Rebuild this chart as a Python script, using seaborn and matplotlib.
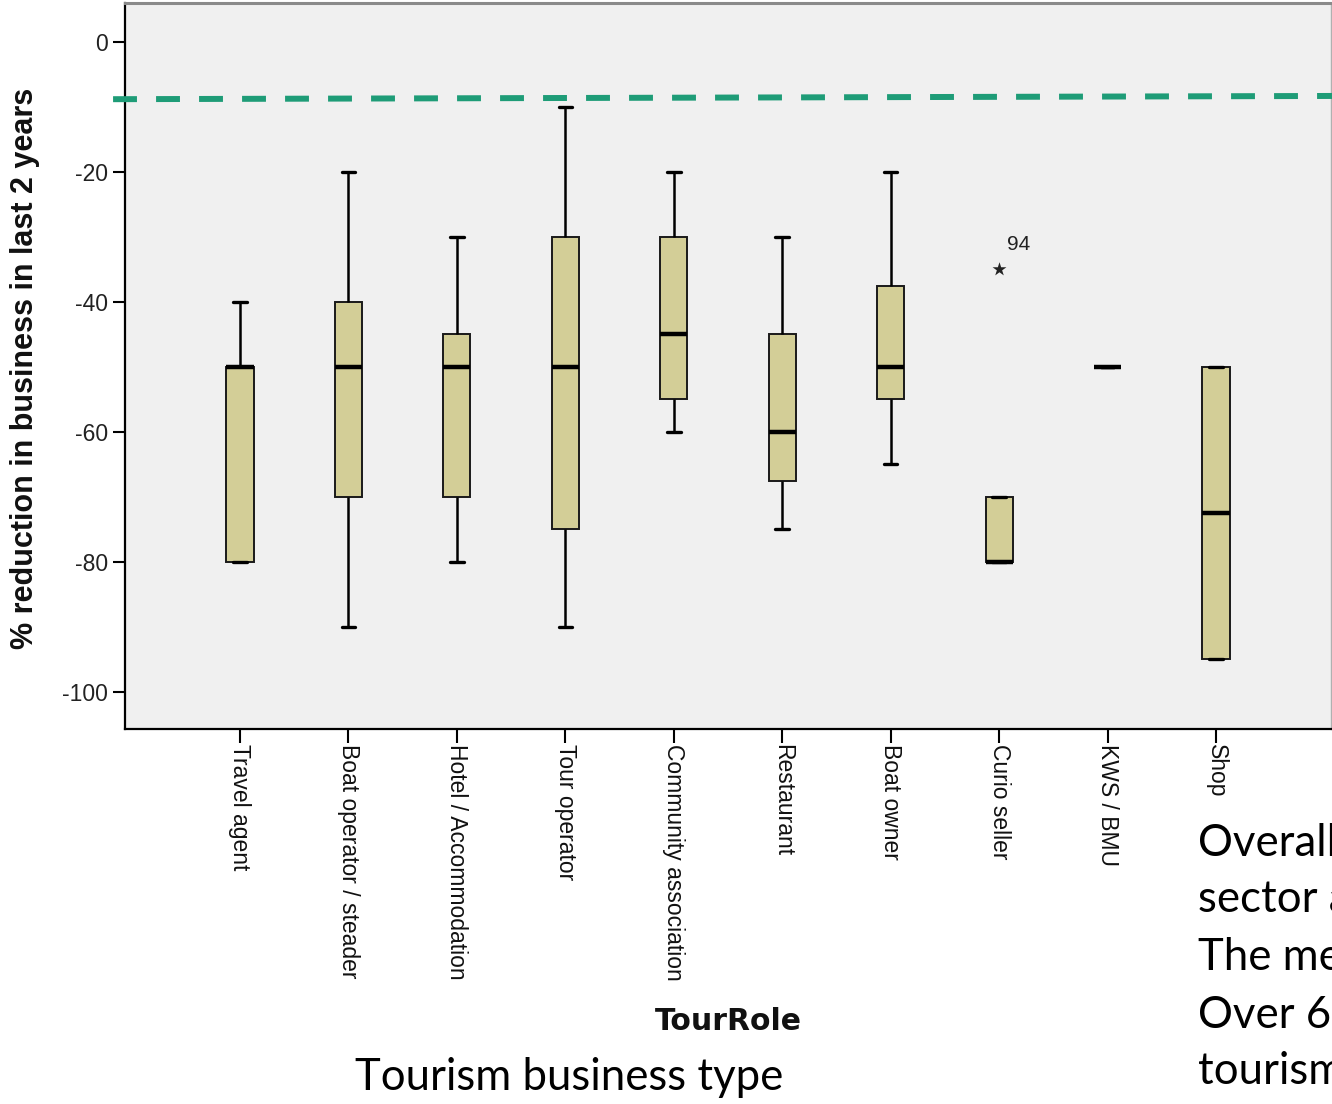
import matplotlib
matplotlib.use("Agg")
import matplotlib.pyplot as plt
import pandas as pd
import seaborn as sns

# Business types on the x axis
roles = ["Travel agent", "Boat operator / steader", "Hotel / Accommodation",
         "Tour operator", "Community association", "Restaurant", "Boat owner",
         "Curio seller", "KWS / BMU", "Shop"]

# Five-number summaries of % change in business over the last 2 years
whisker_low = [-80, -90, -80, -90, -60, -75, -65, -80, -50, -95]
quartile_1 = [-80, -70, -70, -75, -55, -67.5, -55, -80, -50, -95]
medians = [-50, -50, -50, -50, -45, -60, -50, -80, -50, -72.5]
quartile_3 = [-50, -40, -45, -30, -30, -45, -37.5, -70, -50, -50]
whisker_high = [-40, -20, -30, -10, -20, -30, -20, -70, -50, -50]

# Extreme case flagged separately
extreme_role = "Curio seller"
extreme_value = -35
extreme_case = "94"

# Overall reference level (left end, right end)
overall_ref = (-8.8, -8.3)

y_ticks = [0, -20, -40, -60, -80, -100]

notes = ["Overall, the tourism", "sector as a whole",
         "The median loss", "Over 62% of",
         "tourism"]

# Long-form table: each role contributes its summary points, whose
# quartiles reproduce the summary exactly
rows = []
for r, a, b, c, d, e in zip(roles, whisker_low, quartile_1, medians,
                            quartile_3, whisker_high):
    for v in (a, b, c, d, e):
        rows.append({"TourRole": r, "value": v})
df = pd.DataFrame(rows)

sns.set_theme(style="white")
plt.rcParams["font.family"] = ["Liberation Sans", "DejaVu Sans"]

W, H = 1332, 1104
fig = plt.figure(figsize=(W / 100, H / 100), dpi=100)
fig.patch.set_facecolor("white")
ax = fig.add_axes([125 / W, 1 - 729 / H, 1206 / W, 726 / H])
ax.set_facecolor("#F0F0F0")

box_fill = "#D3CE97"
sns.boxplot(data=df, x="TourRole", y="value", order=roles, ax=ax,
            width=0.25, color=box_fill, saturation=1, linecolor="black",
            linewidth=1.4, showfliers=False,
            medianprops=dict(color="black", linewidth=3.2),
            whiskerprops=dict(color="black", linewidth=1.8),
            capprops=dict(color="black", linewidth=2.4),
            boxprops=dict(edgecolor="#1a1a1a", linewidth=1.4))

# Extreme value marker and its case number
xi = roles.index(extreme_role)
ax.scatter([xi], [extreme_value], marker="*", s=110, color="#222222",
           linewidths=0, zorder=5)
ax.annotate(extreme_case, (xi, extreme_value), xytext=(6, 11),
            textcoords="offset points", fontsize=15, color="#222222",
            ha="left", va="bottom")

# Overall reference line (dashed), running past the left edge
ax.plot([-1.17, 10.1], list(overall_ref), color="#1E9C77", lw=4.3,
        linestyle=(0, (4, 3.2)), clip_on=False, zorder=6,
        solid_capstyle="butt", dash_capstyle="butt")

ax.set_xlim(-1.06, 10.06)
ax.set_ylim(-105.7, 6)
ax.set_yticks(y_ticks)
ax.set_yticklabels([str(t) for t in y_ticks])

ax.tick_params(axis="y", direction="out", length=9, width=1.5, color="black",
               labelsize=16.5, labelcolor="#222222", pad=3, left=True)
ax.tick_params(axis="x", direction="out", length=10, width=1.5, color="black",
               labelsize=16.5, labelcolor="#111111", pad=1, bottom=True)
for lab in ax.get_xticklabels():
    lab.set_rotation(-90)
    lab.set_ha("center")
    lab.set_va("top")

for side in ("left", "bottom"):
    ax.spines[side].set_color("black")
    ax.spines[side].set_linewidth(1.6)
ax.spines["top"].set_color("#8a8a8a")
ax.spines["top"].set_linewidth(2.2)
ax.spines["right"].set_color("#b0b0b0")
ax.spines["right"].set_linewidth(1.0)

ax.set_ylabel("% reduction in business in last 2 years", fontsize=22,
              fontweight="bold", color="#111111")
ax.yaxis.set_label_coords(-0.0705, 0.497)
ax.set_xlabel("TourRole", fontsize=21.5, fontweight="bold",
              family=["DejaVu Sans"], color="#111111")
ax.xaxis.set_label_coords(0.5, -0.383)

fig.text(569 / W, 1 - 1078 / H, "Tourism business type", fontsize=31.5,
         family=["Lato", "DejaVu Sans"], ha="center", va="center",
         color="black")

line_y = [843, 900, 957, 1015, 1072]
for y, t in zip(line_y, notes):
    fig.text(1198 / W, 1 - y / H, t, fontsize=31.5,
             family=["Lato", "DejaVu Sans"], ha="left", va="center",
             color="black")

fig.savefig("out.png", dpi=100, facecolor="white")
